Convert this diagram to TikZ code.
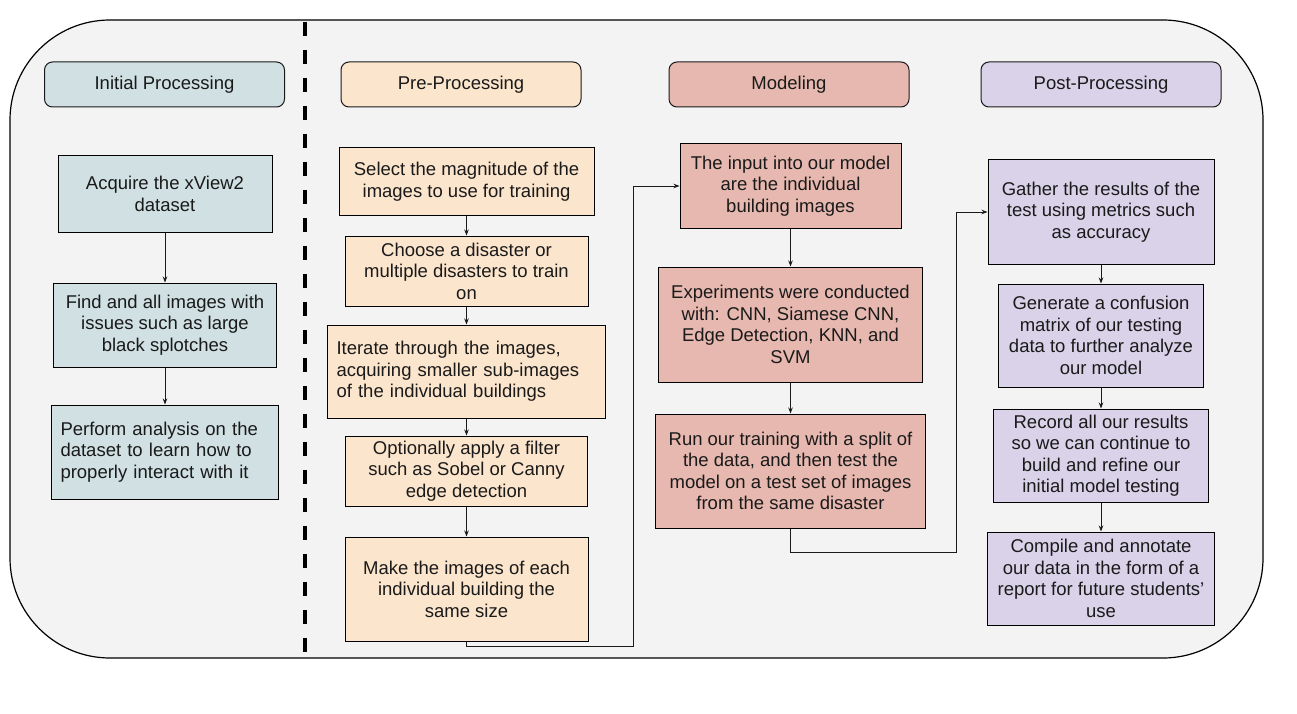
\documentclass[tikz,border=0pt]{standalone}
\usepackage{fontspec}
\setmainfont{Liberation Sans}
\usetikzlibrary{arrows.meta,positioning}
\definecolor{panel}{HTML}{F3F3F3}
\definecolor{initblue}{HTML}{D0E0E3}
\definecolor{preorange}{HTML}{FCE5CD}
\definecolor{modred}{HTML}{E6B8AF}
\definecolor{postpurple}{HTML}{D9D2E9}
\definecolor{ink}{HTML}{1A1A1A}
\tikzset{
    %Define standard arrow tip
    >={Stealth[length=6pt,width=4.5pt]},
    %Define style for column headers
    kopf/.style={
           rectangle,
           rounded corners=8pt,
           draw=ink,
           line width=1pt,
           minimum width=240pt,
           minimum height=45pt,
           text=ink,
           align=center},
    %Define style for boxes
    punkt/.style={
           rectangle,
           draw=black,
           line width=1pt,
           inner sep=0pt,
           text=ink,
           align=center},
    links/.style={
           align=left,
           inner xsep=9pt},
    % Define arrow style
    pil/.style={
           ->,
           line width=0.8pt,
           draw=ink}
}

\begin{document}
\begin{tikzpicture}[x=1pt, y=-1pt, node distance=20pt, font=\fontsize{18.5}{21.5}\selectfont]
  \useasboundingbox (0,0) rectangle (1297,714);
  \draw[fill=panel, line width=1.2pt, rounded corners=100pt] (10,20) rectangle (1263,658);
  \draw[line width=4pt, dash pattern=on 14pt off 14pt] (305,22) -- (305,654);
  % headers
  \node[kopf, fill=initblue] (initial) at (164.5,84.5) {Initial Processing};
  \node[kopf, fill=preorange] (pre) at (461,84.5) {Pre-Processing};
  \node[kopf, fill=modred] (model) at (789,84.5) {Modeling};
  \node[kopf, fill=postpurple] (post) at (1101,84.5) {Post-Processing};
  % initial processing
  \node[punkt, fill=initblue, minimum width=214pt, minimum height=76pt] (acquire) at (165,194) {Acquire the xView2\\dataset};
  \node[punkt, fill=initblue, minimum width=223pt, minimum height=84pt, below=50pt of acquire] (find) {Find and all images with\\issues such as large\\black splotches};
  \node[punkt, links, fill=initblue, text width=209pt, minimum height=94pt, below=37pt of find] (analyse) {Perform analysis on the\\dataset to learn how to\\properly interact with it};
  % pre-processing
  \node[punkt, fill=preorange, minimum width=255pt, minimum height=67pt] (magnitude) at (466.5,181.5) {Select the magnitude of the\\images to use for training};
  \node[punkt, fill=preorange, minimum width=243pt, minimum height=70pt, below=20pt of magnitude] (disaster) {Choose a disaster or\\multiple disasters to train\\on};
  \node[punkt, links, fill=preorange, text width=260pt, minimum height=93pt, below=18pt of disaster] (iterate) {Iterate through the images,\\acquiring smaller sub-images\\of the individual buildings};
  \node[punkt, fill=preorange, minimum width=242pt, minimum height=70pt, below=17pt of iterate] (filter) {Optionally apply a filter\\such as Sobel or Canny\\edge detection};
  \node[punkt, fill=preorange, minimum width=243pt, minimum height=104pt, below=30pt of filter] (resize) {Make the images of each\\individual building the\\same size};
  % modeling
  \node[punkt, fill=modred, minimum width=221pt, minimum height=84pt] (input) at (790.5,186) {The input into our model\\are the individual\\building images};
  \node[punkt, fill=modred, minimum width=264pt, minimum height=115pt, below=38pt of input] (experiments) {Experiments were conducted\\with: CNN, Siamese CNN,\\Edge Detection, KNN, and\\SVM};
  \node[punkt, fill=modred, minimum width=270pt, minimum height=114pt, below=31pt of experiments] (training) {Run our training with a split of\\the data, and then test the\\model on a test set of images\\from the same disaster};
  % post-processing
  \node[punkt, fill=postpurple, minimum width=226pt, minimum height=104pt] (gather) at (1101,212) {Gather the results of the\\test using metrics such\\as accuracy};
  \node[punkt, fill=postpurple, minimum width=205pt, minimum height=103pt, below=19pt of gather] (confusion) {Generate a confusion\\matrix of our testing\\data to further analyze\\our model};
  \node[punkt, fill=postpurple, minimum width=215pt, minimum height=93pt, below=21pt of confusion] (record) {Record all our results\\so we can continue to\\build and refine our\\initial model testing};
  \node[punkt, fill=postpurple, minimum width=227pt, minimum height=93pt, below=29pt of record] (compile) {Compile and annotate\\our data in the form of a\\report for future students'\\use};
  % connectors
  \draw[pil] (acquire) -- (find);
  \draw[pil] (find) -- (analyse);
  \draw[pil] (magnitude) -- (disaster);
  \draw[pil] (disaster) -- (iterate);
  \draw[pil] (iterate) -- (filter);
  \draw[pil] (filter) -- (resize);
  \draw[pil] (input) -- (experiments);
  \draw[pil] (experiments) -- (training);
  \draw[pil] (gather) -- (confusion);
  \draw[pil] (confusion) -- (record);
  \draw[pil] (record) -- (compile);
  \coordinate (knick1) at (633,646);
  \coordinate (knick2) at (956,552);
  \draw[pil] (resize.south) |- (knick1) |- (input.west);
  \draw[pil] (training.south) |- (knick2) |- (gather.west);
\end{tikzpicture}
\end{document}
